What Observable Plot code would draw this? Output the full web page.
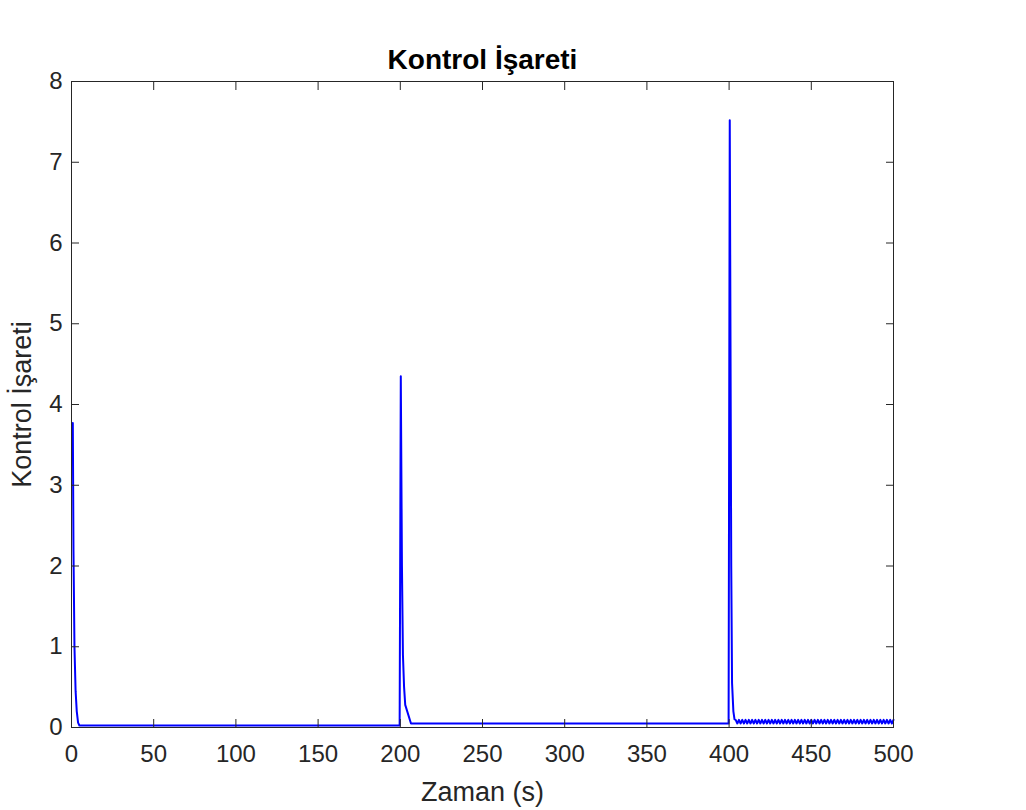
<!DOCTYPE html>
<html>
<head>
<meta charset="utf-8">
<script src="https://cdn.jsdelivr.net/npm/d3@7"></script>
<script src="https://cdn.jsdelivr.net/npm/@observablehq/plot@0.6"></script>
<style>
  html, body { margin: 0; padding: 0; background: #ffffff; }
  #chart svg { display: block; }
</style>
</head>
<body>
<div id="chart"></div>
<script>
// Control signal: step responses at t = 0, 200 and 400 s
const titleText = "Kontrol İşareti";
const xLabelText = "Zaman (s)";
const yLabelText = "Kontrol İşareti";

const xTicks = [0, 50, 100, 150, 200, 250, 300, 350, 400, 450, 500];
const yTicks = [0, 1, 2, 3, 4, 5, 6, 7, 8];

// first step (t = 0) and settled level
const time0 = [0.8, 1.2, 1.8, 2.5, 3.2, 4.0, 4.8, 199.6];
const ctrl0 = [3.77, 2.2, 1.0, 0.45, 0.2, 0.06, 0.025, 0.025];

// second step (t = 200)
const time200 = [199.6, 200.3, 201.0, 201.6, 202.3, 203.0, 206.5, 399.7];
const ctrl200 = [0.025, 4.35, 2.0, 0.9, 0.5, 0.28, 0.05, 0.05];

// third step (t = 400)
const time400 = [399.7, 400.4, 401.3, 401.8, 402.6, 403.3];
const ctrl400 = [0.05, 7.52, 2.0, 0.55, 0.2, 0.1];

// chattering after the third step
const timeOsc = [
  404, 405, 406, 407, 408, 409, 410, 411, 412, 413,
  414, 415, 416, 417, 418, 419, 420, 421, 422, 423,
  424, 425, 426, 427, 428, 429, 430, 431, 432, 433,
  434, 435, 436, 437, 438, 439, 440, 441, 442, 443,
  444, 445, 446, 447, 448, 449, 450, 451, 452, 453,
  454, 455, 456, 457, 458, 459, 460, 461, 462, 463,
  464, 465, 466, 467, 468, 469, 470, 471, 472, 473,
  474, 475, 476, 477, 478, 479, 480, 481, 482, 483,
  484, 485, 486, 487, 488, 489, 490, 491, 492, 493,
  494, 495, 496, 497, 498, 499, 500
];
const ctrlOsc = [
  0.095, 0.05, 0.095, 0.05, 0.095, 0.05, 0.095, 0.05, 0.095, 0.05,
  0.095, 0.05, 0.095, 0.05, 0.095, 0.05, 0.095, 0.05, 0.095, 0.05,
  0.095, 0.05, 0.095, 0.05, 0.095, 0.05, 0.095, 0.05, 0.095, 0.05,
  0.095, 0.05, 0.095, 0.05, 0.095, 0.05, 0.095, 0.05, 0.095, 0.05,
  0.095, 0.05, 0.095, 0.05, 0.095, 0.05, 0.095, 0.05, 0.095, 0.05,
  0.095, 0.05, 0.095, 0.05, 0.095, 0.05, 0.095, 0.05, 0.095, 0.05,
  0.095, 0.05, 0.095, 0.05, 0.095, 0.05, 0.095, 0.05, 0.095, 0.05,
  0.095, 0.05, 0.095, 0.05, 0.095, 0.05, 0.095, 0.05, 0.095, 0.05,
  0.095, 0.05, 0.095, 0.05, 0.095, 0.05, 0.095, 0.05, 0.095, 0.05,
  0.095, 0.05, 0.095, 0.05, 0.095, 0.05, 0.095
];

const toRows = (ts, us) => ts.map((t, i) => ({t, u: us[i]}));
const signal = [
  ...toRows(time0, ctrl0),
  ...toRows(time200, ctrl200).slice(1),
  ...toRows(time400, ctrl400).slice(1),
  ...toRows(timeOsc, ctrlOsc)
];

const ink = "#262626";
const font = "'Liberation Sans', Arial, Helvetica, sans-serif";
const intFormat = d3.format("d");

const chart = Plot.plot({
  width: 1026,
  height: 810,
  marginLeft: 71,
  marginRight: 133,
  marginTop: 81,
  marginBottom: 83,
  style: {fontFamily: font, background: "#ffffff", overflow: "visible"},
  x: {domain: [0, 500]},
  y: {domain: [0, 8]},
  marks: [
    Plot.line(signal, {x: "t", y: "u", stroke: "#0000ff", strokeWidth: 2}),
    Plot.frame({stroke: ink, strokeWidth: 1}),
    Plot.axisX(xTicks, {anchor: "bottom", tickSize: -8, tickPadding: 25, tickFormat: intFormat, fontSize: 24, color: ink, label: null}),
    Plot.axisX(xTicks, {anchor: "top", tickSize: -8, tickFormat: () => "", color: ink, label: null}),
    Plot.axisY(yTicks, {anchor: "left", tickSize: -8, tickPadding: 17, tickFormat: intFormat, fontSize: 24, color: ink, label: null}),
    Plot.axisY(yTicks, {anchor: "right", tickSize: -8, tickFormat: () => "", color: ink, label: null}),
    Plot.text([titleText], {frameAnchor: "top", dy: -21, lineAnchor: "middle", fontSize: 28, fontWeight: "bold", fill: "#000000"}),
    Plot.text([xLabelText], {frameAnchor: "bottom", dy: 65, lineAnchor: "middle", fontSize: 27, fill: ink}),
    Plot.text([yLabelText], {frameAnchor: "left", dx: -49, textAnchor: "middle", lineAnchor: "middle", rotate: -90, fontSize: 27, fill: ink})
  ]
});

document.getElementById("chart").appendChild(chart);
</script>
</body>
</html>
